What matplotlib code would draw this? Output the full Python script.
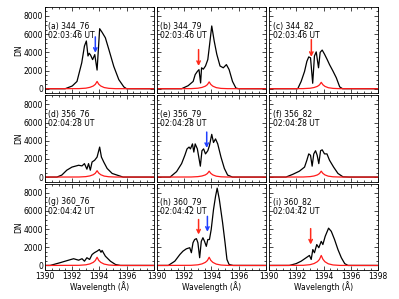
import matplotlib
matplotlib.use("Agg")
import matplotlib.pyplot as plt
from matplotlib.ticker import MultipleLocator

# black spectra (wavelength in Angstrom, DN)
wave_a = [1390, 1391.48, 1392.0, 1392.35, 1392.7, 1392.9, 1393.04, 1393.16, 1393.25, 1393.35, 1393.5,
          1393.66, 1393.83, 1394.02, 1394.2, 1394.44, 1394.7, 1395.06, 1395.43, 1395.8, 1396.0, 1398]
dn_a = [0, 0, 300, 800, 2850, 4700, 5250, 3600, 3900, 3700, 3200,
        3750, 2050, 6600, 6200, 5600, 4300, 2450, 1000, 200, 0, 0]

wave_b = [1390, 1391.8, 1392.28, 1392.65, 1392.8, 1392.96, 1393.08, 1393.2, 1393.27, 1393.4, 1393.56,
          1393.73, 1393.85, 1394.02, 1394.2, 1394.39, 1394.63, 1394.87, 1395.1, 1395.3, 1395.55, 1395.8,
          1396.0, 1398]
dn_b = [0, 0, 330, 800, 1550, 1900, 2100, 630, 2300, 2150, 2500,
        3200, 4700, 6900, 5250, 3800, 2500, 2300, 2650, 2100, 800, 70,
        0, 0]

wave_c = [1390, 1392.1, 1392.35, 1392.6, 1392.77, 1392.91, 1393.04, 1393.2, 1393.33, 1393.46, 1393.63,
          1393.75, 1393.9, 1394.07, 1394.27, 1394.44, 1394.69, 1394.94, 1395.19, 1395.4, 1398]
dn_c = [0, 0, 800, 1900, 3000, 3500, 3400, 600, 3600, 4050, 2300,
        4000, 4250, 3800, 3200, 2650, 1950, 1200, 200, 0, 0]

wave_d = [1390, 1390.87, 1391.23, 1391.6, 1391.98, 1392.47, 1392.72, 1392.9, 1393.08, 1393.2, 1393.33,
          1393.46, 1393.65, 1393.83, 1394.02, 1394.15, 1394.32, 1394.57, 1394.94, 1395.3, 1395.75, 1398]
dn_d = [0, 0, 220, 760, 1100, 1300, 1230, 1480, 870, 1480, 760,
        1660, 1850, 2200, 3300, 2200, 1660, 950, 400, 220, 0, 0]

wave_e = [1390, 1390.95, 1391.43, 1391.8, 1392.04, 1392.2, 1392.35, 1392.45, 1392.6, 1392.7, 1392.8,
          1392.96, 1393.18, 1393.3, 1393.42, 1393.56, 1393.73, 1393.85, 1394.02, 1394.15, 1394.3,
          1394.46, 1394.7, 1394.95, 1395.19, 1395.55, 1398]
dn_e = [0, 0, 600, 1480, 2400, 3100, 3300, 3100, 3650, 2750, 3650,
        3100, 1200, 2900, 3100, 2550, 2900, 3450, 4700, 3800, 4200,
        3650, 2200, 950, 220, 0, 0]

wave_f = [1390, 1391.23, 1391.73, 1392.22, 1392.6, 1392.77, 1392.91, 1393.04, 1393.16, 1393.28, 1393.41,
          1393.53, 1393.65, 1393.78, 1393.9, 1394.07, 1394.25, 1394.44, 1394.74, 1395.06, 1395.43,
          1395.9, 1398]
dn_f = [0, 0, 300, 650, 1100, 1850, 2550, 2400, 1200, 2550, 2900,
        2400, 1480, 2900, 3000, 2550, 2550, 1850, 1100, 400, 30,
        0, 0]

wave_g = [1390, 1390.37, 1391.1, 1391.73, 1392.1, 1392.47, 1392.72, 1392.9, 1393.08, 1393.28, 1393.46,
          1393.63, 1393.83, 1394.0, 1394.12, 1394.2, 1394.44, 1394.81, 1395.19, 1395.55, 1398]
dn_g = [0, 0, 300, 580, 740, 580, 740, 470, 850, 660, 1200,
        1400, 1570, 1750, 1450, 1650, 1020, 470, 100, 0, 0]

wave_h = [1390, 1390.82, 1391.3, 1391.67, 1391.9, 1392.15, 1392.4, 1392.52, 1392.64, 1392.76, 1392.89,
          1393.0, 1393.13, 1393.25, 1393.37, 1393.49, 1393.62, 1393.73, 1393.85, 1393.98, 1394.15,
          1394.3, 1394.42, 1394.58, 1394.82, 1395.0, 1395.14, 1395.3, 1395.6, 1398]
dn_h = [0, 0, 470, 1200, 1570, 1830, 1950, 1400, 2500, 2850, 2950,
        2500, 850, 2650, 3050, 2650, 2100, 2850, 2850, 3950, 6150,
        7600, 8500, 7250, 4700, 2500, 660, 100, 0, 0]

wave_i = [1390, 1391.48, 1391.98, 1392.35, 1392.72, 1392.96, 1393.09, 1393.21, 1393.33, 1393.5, 1393.65,
          1393.83, 1393.95, 1394.12, 1394.37, 1394.57, 1394.81, 1395.06, 1395.31, 1395.56, 1395.8, 1398]
dn_i = [0, 0, 200, 470, 850, 1100, 660, 1750, 1400, 2300, 1950,
        2650, 2300, 3200, 4100, 3750, 2850, 1750, 850, 200, 0, 0]

# red reference profile, same wavelength grid for every panel
red_wave = [1390, 1392.5, 1393.0, 1393.3, 1393.55, 1393.7, 1393.83, 1393.95, 1394.1, 1394.35, 1394.7, 1395.2, 1398]
red_a = [0, 10, 60, 150, 300, 480, 800, 500, 300, 130, 40, 5, 0]
red_b = [0, 10, 55, 140, 280, 450, 750, 470, 280, 120, 35, 5, 0]
red_c = [0, 10, 50, 130, 260, 420, 700, 440, 260, 110, 35, 5, 0]
red_d = [0, 10, 50, 130, 260, 420, 700, 440, 260, 110, 35, 5, 0]
red_e = [0, 10, 50, 120, 240, 390, 650, 410, 240, 100, 30, 5, 0]
red_f = [0, 10, 50, 120, 240, 390, 650, 410, 240, 100, 30, 5, 0]
red_g = [0, 15, 70, 170, 340, 540, 900, 560, 340, 150, 45, 5, 0]
red_h = [0, 15, 70, 170, 340, 540, 900, 560, 340, 150, 45, 5, 0]
red_i = [0, 15, 85, 210, 420, 660, 1100, 690, 410, 180, 55, 5, 0]

labels = ["(a) 344_76", "(b) 344_79", "(c) 344_82",
          "(d) 356_76", "(e) 356_79", "(f) 356_82",
          "(g) 360_76", "(h) 360_79", "(i) 360_82"]
times = ["02:03:46 UT"] * 3 + ["02:04:28 UT"] * 3 + ["02:04:42 UT"] * 3

black_waves = [wave_a, wave_b, wave_c, wave_d, wave_e, wave_f, wave_g, wave_h, wave_i]
black_dns = [dn_a, dn_b, dn_c, dn_d, dn_e, dn_f, dn_g, dn_h, dn_i]
red_dns = [red_a, red_b, red_c, red_d, red_e, red_f, red_g, red_h, red_i]

# arrows: panel index, colour, wavelength, DN of tail, DN of head
arrow_panel = [0, 1, 2, 4, 7, 7, 8]
arrow_color = ["blue", "red", "red", "blue", "red", "blue", "red"]
arrow_wave = [1393.7, 1393.05, 1393.1, 1393.65, 1393.05, 1393.7, 1393.05]
arrow_top = [5700, 4300, 5400, 4950, 5050, 5400, 4050]
arrow_tip = [3950, 2500, 3500, 3200, 3400, 3700, 2300]
arrow_rgb = {"blue": "#2040ff", "red": "#ff2a1a"}

plt.rcParams["font.family"] = "DejaVu Sans"
fs = 5.5

fig, axes = plt.subplots(3, 3, figsize=(3.99, 2.99), dpi=100,
                         gridspec_kw=dict(left=0.113, right=0.947, top=0.977, bottom=0.097,
                                          wspace=0.032, hspace=0.023))

for k, ax in enumerate(axes.flat):
    row, col = divmod(k, 3)
    ax.plot(black_waves[k], black_dns[k], color="black", lw=0.9)
    ax.plot(red_wave, red_dns[k], color="#ff1a1a", lw=0.9)
    ax.set_xlim(1390, 1398)
    ax.set_ylim(-500, 9000)
    ax.xaxis.set_major_locator(MultipleLocator(2))
    ax.xaxis.set_minor_locator(MultipleLocator(0.5))
    ax.yaxis.set_major_locator(MultipleLocator(2000))
    ax.yaxis.set_minor_locator(MultipleLocator(500))
    ax.tick_params(which="both", direction="in", top=True, right=True, width=0.5,
                   labelsize=fs, pad=1.5)
    ax.tick_params(which="major", length=3)
    ax.tick_params(which="minor", length=1.5)
    for s in ax.spines.values():
        s.set_linewidth(0.6)

    ax.text(0.03, 0.84, labels[k] + "\n" + times[k], transform=ax.transAxes,
            fontsize=fs, ha="left", va="top", linespacing=1.15)

    if row == 2:
        ax.set_xticks([1390, 1392, 1394, 1396, 1398])
        if col < 2:
            ax.set_xticklabels(["1390", "1392", "1394", "1396", ""])
        ax.set_xlabel("Wavelength (Å)", fontsize=fs)
        ax.xaxis.set_label_coords(0.5, -0.13)
    else:
        ax.set_xticklabels([])
    if col == 0:
        ax.set_ylabel("DN", fontsize=fs)
        ax.yaxis.set_label_coords(-0.2, 0.5)
    else:
        ax.set_yticklabels([])

for p, c, w, y0, y1 in zip(arrow_panel, arrow_color, arrow_wave, arrow_top, arrow_tip):
    axes.flat[p].annotate("", xy=(w, y1), xytext=(w, y0),
                          arrowprops=dict(arrowstyle="->", color=arrow_rgb[c], lw=1.1,
                                          shrinkA=0, shrinkB=0,
                                          mutation_scale=6))

fig.savefig("out.png", dpi=100)
